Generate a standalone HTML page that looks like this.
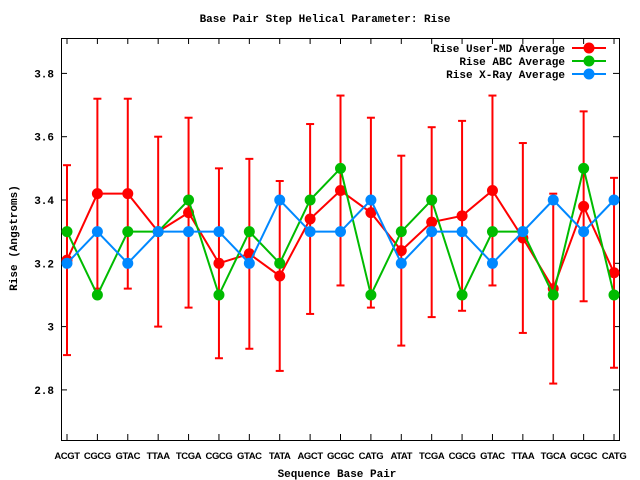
<!DOCTYPE html>
<html><head><meta charset="utf-8"><style>
html,body{margin:0;padding:0;background:#fff;width:640px;height:480px;overflow:hidden}
text{font-family:"Liberation Mono","DejaVu Sans Mono",monospace;font-weight:bold;font-size:11px;fill:#000}
</style></head><body>
<svg id="s" width="640" height="480" xmlns="http://www.w3.org/2000/svg">
<text x="325" y="22" text-anchor="middle">Base Pair Step Helical Parameter: Rise</text>
<text x="337" y="477" text-anchor="middle">Sequence Base Pair</text>
<text transform="translate(17,238) rotate(-90)" text-anchor="middle">Rise (Angstroms)</text>
<rect x="61.5" y="38.5" width="558" height="402" fill="none" stroke="#000" stroke-width="1"/>
<g id="g"></g>
</svg>
<script>
var g=document.getElementById('g'),h='';
function Y(v){return 200+(3.4-v)*316.5;}
function X(i){return 67+i*30.39;}
[3.8,3.6,3.4,3.2,3.0,2.8].forEach(function(v){var y=Y(v);
h+='<line x1="61" x2="67" y1="'+y+'" y2="'+y+'" stroke="#000"/><line x1="613" x2="619" y1="'+y+'" y2="'+y+'" stroke="#000"/>';
h+='<text x="54" y="'+(y+4)+'" text-anchor="end">'+(v==3?'3':v.toFixed(1))+'</text>';});
var labs="ACGT CGCG GTAC TTAA TCGA CGCG GTAC TATA AGCT GCGC CATG ATAT TCGA CGCG GTAC TTAA TGCA GCGC CATG".split(' ');
labs.forEach(function(l,i){var x=X(i);
h+='<line x1="'+x+'" x2="'+x+'" y1="440" y2="434" stroke="#000"/><line x1="'+x+'" x2="'+x+'" y1="38" y2="44" stroke="#000"/>';
h+='<text x="'+x+'" y="459" text-anchor="middle" style="font-family:\'Liberation Sans\',sans-serif;font-size:9.5px;letter-spacing:-0.4px">'+l+'</text>';});
var R=[3.21,3.42,3.42,3.30,3.36,3.20,3.23,3.16,3.34,3.43,3.36,3.24,3.33,3.35,3.43,3.28,3.12,3.38,3.17];
var G=[3.3,3.1,3.3,3.3,3.4,3.1,3.3,3.2,3.4,3.5,3.1,3.3,3.4,3.1,3.3,3.3,3.1,3.5,3.1];
var B=[3.2,3.3,3.2,3.3,3.3,3.3,3.2,3.4,3.3,3.3,3.4,3.2,3.3,3.3,3.2,3.3,3.4,3.3,3.4];
R.forEach(function(v,i){var x=X(i),a=Y(v+0.3),b=Y(v-0.3);
h+='<line x1="'+x+'" x2="'+x+'" y1="'+a+'" y2="'+b+'" stroke="#f00" stroke-width="2"/>';
h+='<line x1="'+(x-4)+'" x2="'+(x+4)+'" y1="'+a+'" y2="'+a+'" stroke="#f00" stroke-width="2"/>';
h+='<line x1="'+(x-4)+'" x2="'+(x+4)+'" y1="'+b+'" y2="'+b+'" stroke="#f00" stroke-width="2"/>';});
function ser(d,c){var p=d.map(function(v,i){return X(i)+','+Y(v)}).join(' ');
h+='<polyline points="'+p+'" fill="none" stroke="'+c+'" stroke-width="2"/>';
d.forEach(function(v,i){h+='<circle cx="'+X(i)+'" cy="'+Y(v)+'" r="5.5" fill="'+c+'"/>';});}
ser(R,'#f00');ser(G,'#0b0');ser(B,'#08f');
[['Rise User-MD Average','#f00',48],['Rise ABC Average','#0b0',61],['Rise X-Ray Average','#08f',74]].forEach(function(e){
h+='<text x="565" y="'+(e[2]+4)+'" text-anchor="end">'+e[0]+'</text>';
h+='<line x1="572" x2="606" y1="'+e[2]+'" y2="'+e[2]+'" stroke="'+e[1]+'" stroke-width="2"/><circle cx="589" cy="'+e[2]+'" r="5.5" fill="'+e[1]+'"/>';});
g.innerHTML=h;
</script>
</body></html>
